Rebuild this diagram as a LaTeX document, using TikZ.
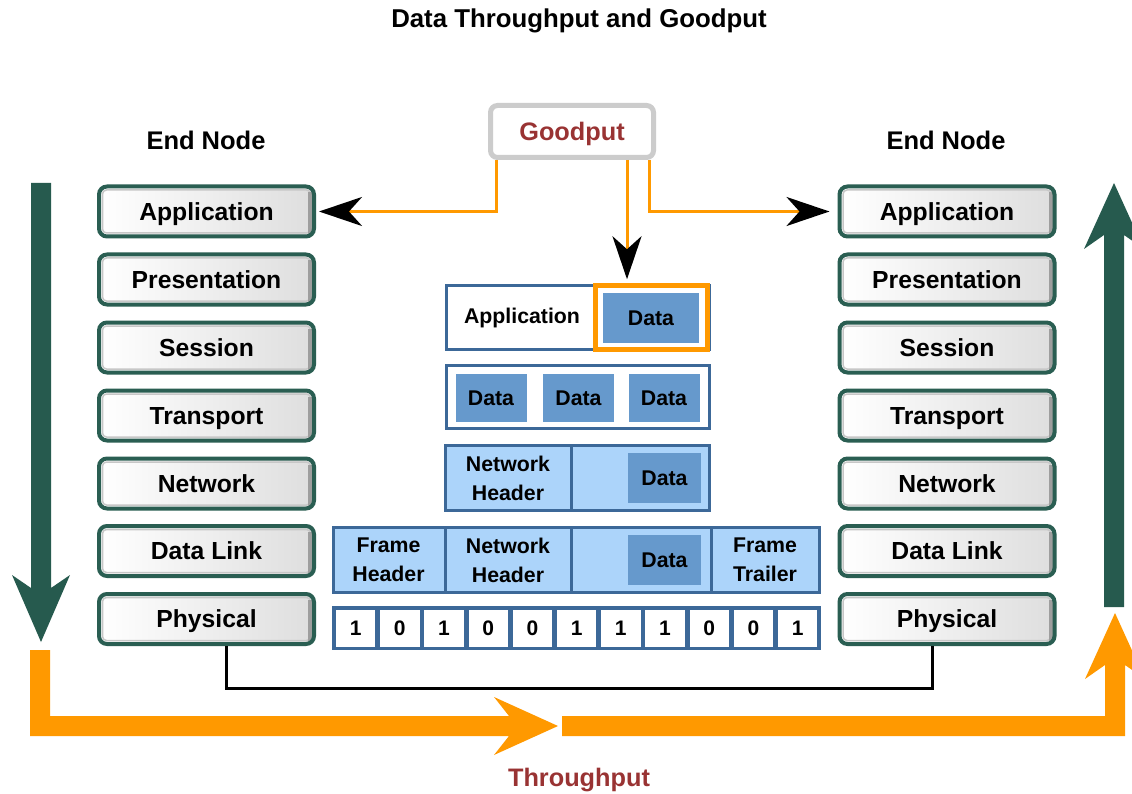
\documentclass[tikz,border=0pt]{standalone}
\usepackage{fontspec}
\setmainfont{Liberation Sans}
\usetikzlibrary{arrows.meta,calc}

\definecolor{layergreen}{RGB}{42,94,82}
\definecolor{arrowgreen}{RGB}{38,90,78}
\definecolor{flow}{RGB}{255,153,0}
\definecolor{pduborder}{RGB}{60,104,152}
\definecolor{pdudata}{RGB}{102,153,204}
\definecolor{pdulight}{RGB}{172,212,250}
\definecolor{labelred}{RGB}{153,51,51}

\tikzset{
  layer/.style={draw=layergreen, line width=4pt, rounded corners=8pt,
    minimum width=215pt, minimum height=50pt, inner sep=0pt,
    left color=white, right color=black!13,
    text height=17.5pt, text depth=0pt,
    font=\bfseries\fontsize{24.7}{26}\selectfont,
    path picture={
      \draw[black!22, line width=1.5pt, rounded corners=4pt]
        ([shift={(3.5pt,-3.5pt)}]path picture bounding box.north west) rectangle
        ([shift={(-3.5pt,3.5pt)}]path picture bounding box.south east);
      \draw[black!38, line width=4pt]
        ([shift={(-4pt,-6pt)}]path picture bounding box.north east) --
        ([shift={(-4pt,2pt)}]path picture bounding box.south east);
    }},
  heading/.style={font=\bfseries\fontsize{25.5}{27}\selectfont},
  redlabel/.style={font=\bfseries\fontsize{25.3}{27}\selectfont, text=labelred},
  goodbox/.style={draw=black!20, line width=5pt, rounded corners=7pt, fill=white,
    minimum width=163pt, minimum height=52pt, inner sep=0pt,
    redlabel, text height=18pt, text depth=0pt},
  pdubox/.style={draw=pduborder, line width=3pt, inner sep=0pt},
  pdutext/.style={font=\bfseries\fontsize{21.3}{29}\selectfont, align=center, inner sep=0pt},
  datablk/.style={fill=pdudata, inner sep=0pt, pdutext, text height=15pt, text depth=0pt},
  bitcell/.style={draw=pduborder, line width=2.5pt, fill=white, inner sep=0pt,
    minimum width=41.9pt, minimum height=39.5pt,
    font=\bfseries\fontsize{21}{22}\selectfont, text height=15pt, text depth=0pt},
  divider/.style={draw=pduborder, line width=3pt},
  gparrow/.style={draw=flow, line width=3pt,
    -{Stealth[black, length=43pt, width=29pt, inset=13pt]}},
  wire/.style={draw=black, line width=3pt},
}

\begin{document}
\begin{tikzpicture}[x=1pt, y=-1pt]
  \clip (0,0) rectangle (1132,794);
  \fill[white] (0,0) rectangle (1132,794);

  % headings
  \node[font=\bfseries\fontsize{25.8}{27}\selectfont] (title) at (579,21) {Data Throughput and Goodput};
  \node[heading] (lhead) at (206,140) {End Node};
  \node[heading] (rhead) at (946,140) {End Node};

  % OSI layer stacks on both end nodes
  \foreach \nm/\txt/\y in {app/Application/211.5, pres/Presentation/279.5,
      sess/Session/347.5, trans/Transport/415.5, net/Network/483.5,
      link/Data Link/551, phy/Physical/619} {
    \node[layer] (l\nm) at (206.5,\y) {\txt};
    \node[layer] (r\nm) at (947,\y) {\txt};
  }

  % encapsulated data units
  \node[pdubox, fill=white, minimum width=263pt, minimum height=64pt] (row1) at (577.5,317.5) {};
  \node[pdutext] (apptxt) at (522,318) {Application};
  \node[draw=flow, line width=4.5pt, fill=white, minimum width=112pt, minimum height=64pt] (obox) at (651.5,317.5) {};
  \node[datablk, minimum width=96pt, minimum height=50pt] (data1) at (651,318) {Data};

  \node[pdubox, fill=white, minimum width=263pt, minimum height=63pt] (row2) at (577.5,397) {};
  \node[datablk, minimum width=71pt, minimum height=48pt] (data2a) at (491,398) {Data};
  \node[datablk, minimum width=71pt, minimum height=48pt] (data2b) at (578.5,398) {Data};
  \node[datablk, minimum width=71pt, minimum height=48pt] (data2c) at (664,398) {Data};

  \node[pdubox, fill=pdulight, minimum width=264pt, minimum height=65pt] (row3) at (577.5,478) {};
  \draw[divider] (row3.north -| 571,0) -- (row3.south -| 571,0);
  \node[pdutext] (nh3) at (508,478) {Network\\Header};
  \node[datablk, minimum width=73pt, minimum height=50pt] (data3) at (664.5,478) {Data};

  \node[pdubox, fill=pdulight, minimum width=486pt, minimum height=65pt] (row4) at (576.5,560) {};
  \foreach \xd in {445,571,711} {
    \draw[divider] (row4.north -| \xd,0) -- (row4.south -| \xd,0);
  }
  \node[pdutext] (fh4) at (388.5,560) {Frame\\Header};
  \node[pdutext] (nh4) at (508,560) {Network\\Header};
  \node[datablk, minimum width=73pt, minimum height=50pt] (data4) at (664.5,560) {Data};
  \node[pdutext] (ft4) at (765,560) {Frame\\Trailer};

  % the frame as a stream of bits
  \node[pdubox, minimum width=486pt, minimum height=41pt] (row5) at (576.5,628) {};
  \foreach \b [count=\i] in {1,0,1,0,0,1,1,1,0,0,1} {
    \node[bitcell] (bit\i) at ({333.5+44.2*(\i-0.5)},628) {\b};
  }

  % goodput and its connectors
  \node[goodbox] (gp) at (572,131.5) {Goodput};
  \coordinate (gpl) at ([xshift=8pt]gp.south west);
  \coordinate (gpm) at ([xshift=55pt]gp.south);
  \coordinate (gpr) at ([xshift=-7pt]gp.south east);
  \draw[gparrow, shorten >=3pt] (gpl) |- (lapp.east);
  \draw[gparrow, shorten >=8pt] (gpr) |- (rapp.west);
  \draw[gparrow, shorten >=4pt] (gpm) -- (gpm |- obox.north);

  % physical link between the two end nodes
  \coordinate (cable) at (579,688);
  \draw[wire] ([xshift=20pt]lphy.south) |- (cable) -| ([xshift=-15pt]rphy.south);

  % direction of processing through the stacks
  \fill[arrowgreen] (31,183) -- (51,183) -- (51,588) -- (70,575) -- (41,642)
    -- (12,575) -- (31,588) -- cycle;
  \fill[arrowgreen] (1104,607) -- (1124,607) -- (1124,235) -- (1144,249) -- (1114,183)
    -- (1084,249) -- (1104,235) -- cycle;

  % throughput path
  \fill[flow] (30,650) -- (50,650) -- (50,716) -- (509,716) -- (494,697) -- (558,726)
    -- (494,755) -- (509,736) -- (30,736) -- cycle;
  \fill[flow] (562,716) -- (1105,716) -- (1105,665) -- (1085,679) -- (1115,613)
    -- (1145,679) -- (1125,665) -- (1125,736) -- (562,736) -- cycle;
  \node[redlabel] (tp) at (579,780) {Throughput};
\end{tikzpicture}
\end{document}
